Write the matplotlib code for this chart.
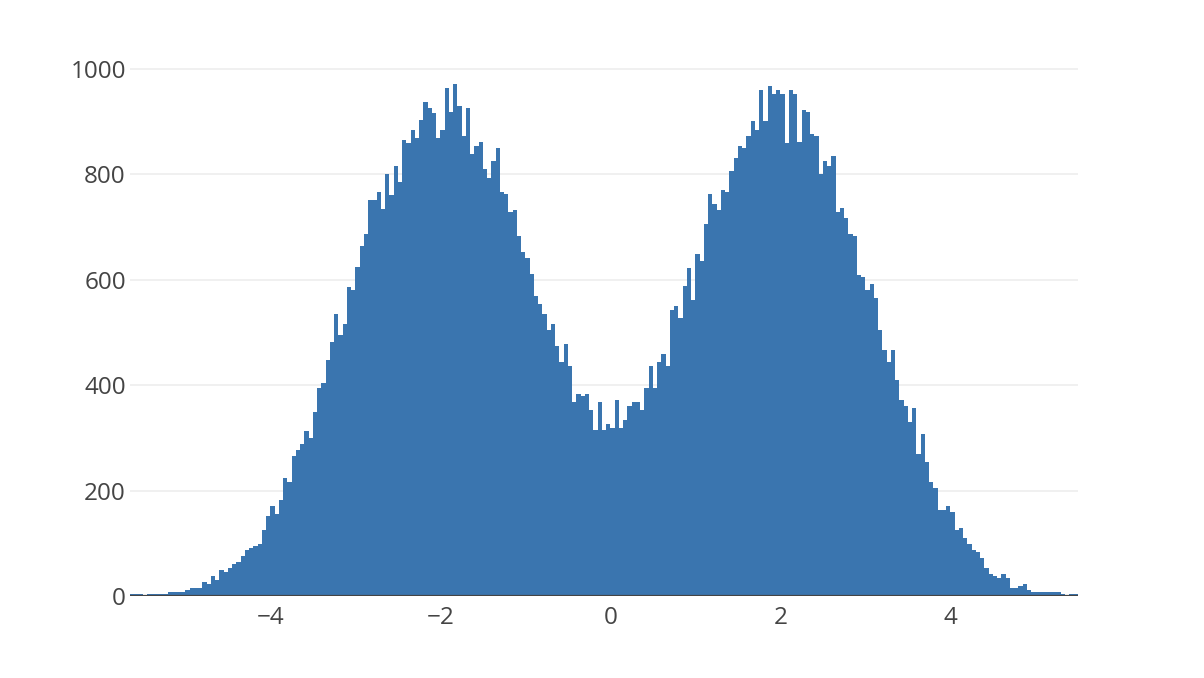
import numpy as np
import matplotlib.pyplot as plt

# =========================
# DATA (bin counts)
# =========================
bin_start = -5.65
bin_size = 0.05

counts = [
    4, 4, 4, 1, 4, 4, 4, 4, 4, 8,
    8, 8, 8, 11, 15, 15, 15, 27, 23, 38,
    30, 49, 45, 53, 61, 65, 76, 87, 91, 95,
    99, 125, 152, 171, 156, 182, 224, 216, 266, 277,
    289, 312, 300, 349, 395, 403, 448, 482, 535, 494,
    516, 585, 581, 623, 664, 687, 751, 751, 766, 733,
    801, 760, 816, 785, 865, 858, 884, 869, 903, 937,
    926, 915, 869, 884, 963, 918, 971, 930, 873, 926,
    839, 854, 861, 809, 793, 824, 850, 766, 762, 729,
    732, 683, 653, 641, 611, 569, 554, 535, 505, 516,
    474, 444, 478, 436, 368, 383, 380, 383, 353, 315,
    368, 315, 326, 319, 372, 319, 334, 361, 368, 368,
    353, 395, 436, 395, 444, 459, 436, 543, 550, 527,
    588, 622, 562, 649, 635, 706, 762, 744, 732, 770,
    766, 805, 831, 854, 850, 873, 900, 884, 960, 900,
    967, 952, 960, 952, 858, 960, 952, 861, 922, 918,
    876, 873, 801, 824, 816, 835, 729, 736, 717, 687,
    683, 608, 604, 581, 592, 565, 505, 467, 444, 467,
    410, 372, 361, 330, 357, 269, 307, 254, 216, 205,
    163, 163, 171, 159, 125, 129, 110, 99, 87, 83,
    72, 53, 42, 38, 34, 42, 34, 15, 15, 19,
    23, 11, 8, 8, 8, 8, 8, 8, 8, 4,
    1, 4, 4,
]

x_ticks = [-4, -2, 0, 2, 4]
y_ticks = [0, 200, 400, 600, 800, 1000]

# =========================
# PLOT
# =========================
plt.rcParams['font.family'] = ['Open Sans', 'DejaVu Sans']

W, H = 1204, 678
fig = plt.figure(figsize=(W / 100, H / 100), dpi=100)
ax = fig.add_axes([130 / W, (H - 596) / H, (1078 - 130) / W, (596 - 57) / H])

left_edges = bin_start + bin_size * np.arange(len(counts))
ax.bar(left_edges, counts, width=bin_size, align='edge',
       color='#3a75af', linewidth=0, zorder=2)

ax.set_xlim(bin_start, bin_start + bin_size * len(counts))
ax.set_ylim(0, 1022)

for v in y_ticks[1:]:
    ax.axhline(v, color='#eeeeee', lw=1.2, zorder=1)
ax.axhline(0, color='#444444', lw=1.6, zorder=3)

ax.set_xticks(x_ticks)
ax.set_xticklabels(['\u2212' + str(abs(t)) if t < 0 else str(t) for t in x_ticks])
ax.set_yticks(y_ticks)
ax.tick_params(axis='both', length=0, labelsize=17.5, colors='#444444')
ax.tick_params(axis='x', pad=7)
ax.tick_params(axis='y', pad=3)

for s in ax.spines.values():
    s.set_visible(False)

fig.savefig('out.png', dpi=100)
